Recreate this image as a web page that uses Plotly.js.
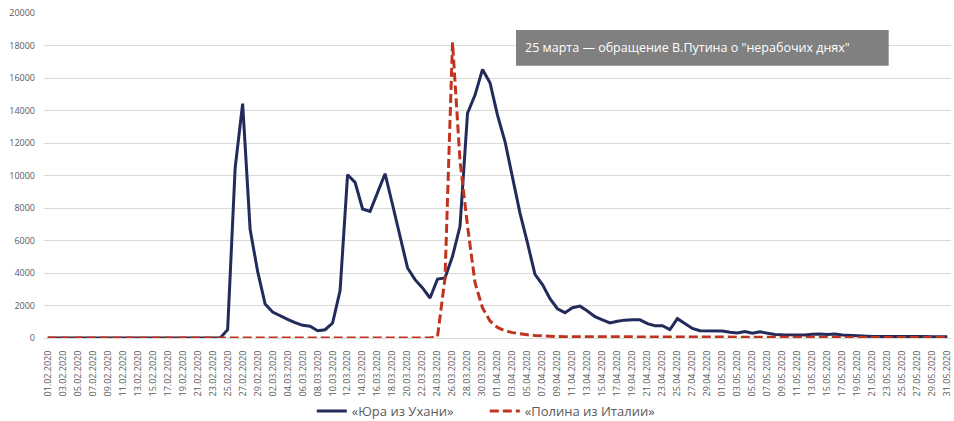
<!DOCTYPE html>
<html>
<head>
<meta charset="utf-8">
<script src="https://cdn.plot.ly/plotly-3.0.1.min.js"></script>
<style>
html,body{margin:0;padding:0;background:#fff;}
#chart{width:954px;height:421px;}
</style>
</head>
<body>
<div id="chart"></div>
<script>
// Daily dates 01.02.2020 .. 31.05.2020 (category labels)
var startDate = Date.UTC(2020, 1, 1);
var dayCount = 121;
var dates = [];
for (var d = 0; d < dayCount; d++) {
  var dt = new Date(startDate + d * 86400000);
  var dd = ('0' + dt.getUTCDate()).slice(-2);
  var mm = ('0' + (dt.getUTCMonth() + 1)).slice(-2);
  dates.push(dd + '.' + mm + '.' + dt.getUTCFullYear());
}
// Tick labels: every second day
var tickLabels = dates.filter(function (_, i) { return i % 2 === 0; });

var seriesNames = ['«Юра из Ухани»', '«Полина из Италии»'];

var yuraValues = [
  0,0,0,0,0,0,0,0,0,0,0,0,0,0,0,0,0,0,0,0,0,0,0,
  0, 510, 10460, 14420, 6670, 4100, 2090, 1600, 1350, 1150,
  950, 780, 720, 450, 510, 920, 2920, 10050, 9580, 7940,
  7790, 8920, 10110, 8200, 6260, 4310, 3590, 3080, 2460, 3630,
  3700, 5030, 6870, 13830, 14950, 16530, 15710, 13720, 12090, 9940,
  7690, 5850, 3910, 3290, 2420, 1800, 1560, 1860, 1960, 1660,
  1310, 1110, 930, 1030, 1100, 1120, 1120, 880, 760, 760,
  520, 1190, 880, 590, 450, 450, 450, 430, 350, 310,
  400, 290, 380, 290, 220, 200, 190, 180, 190, 230,
  250, 210, 250, 180, 150, 120,
  100, 100, 100, 90, 90, 90, 90, 85, 85, 80, 80, 80
];

var polinaValues = [
  0,0,0,0,0,0,0,0,0,0,0,0,0,0,0,0,0,0,0,0,0,0,0,0,0,0,
  0,0,0,0,0,0,0,0,0,0,0,0,0,0,0,0,0,0,0,0,0,0,0,0,0,0,
  100, 3700, 18200, 10900, 6900, 3400, 1850, 1050, 650, 450,
  330, 250, 200, 150, 120, 100, 90,
  80, 80, 75, 70, 70, 65, 65, 60, 60, 60,
  55, 55, 55, 50, 50, 50, 50, 50, 45, 45,
  45, 45, 45, 40, 40, 40, 40, 40, 40, 40,
  40, 35, 35, 35, 35, 35, 35, 35, 35, 35,
  30, 30, 30, 30, 30, 30, 30, 30, 30, 30,
  30, 30
];

var annotationText = '25 марта — обращение В.Путина о "нерабочих днях"';

var font = '"Open Sans", "Liberation Sans", sans-serif';
var gray = '#595959';

var traces = [
  {
    x: dates, y: yuraValues, name: seriesNames[0],
    type: 'scatter', mode: 'lines',
    line: {color: '#232b5b', width: 3}
  },
  {
    x: dates, y: polinaValues, name: seriesNames[1],
    type: 'scatter', mode: 'lines',
    line: {color: '#c0341f', width: 3, dash: '9px,4px'}
  }
];

var layout = {
  width: 954, height: 421,
  margin: {l: 44, r: 3, t: 13, b: 83, autoexpand: false},
  paper_bgcolor: '#ffffff', plot_bgcolor: '#ffffff',
  font: {family: font, color: gray, size: 9},
  showlegend: true,
  legend: {
    orientation: 'h', x: 0.486, xanchor: 'center', y: -0.225, yanchor: 'middle',
    font: {family: font, size: 13, color: gray},
    itemwidth: 30, tracegroupgap: 0,
    entrywidth: 128, entrywidthmode: 'pixels'
  },
  xaxis: {
    type: 'category', automargin: false,
    range: [-0.5, dayCount - 0.5],
    tickmode: 'array', tickvals: tickLabels, ticktext: tickLabels,
    tickangle: -90, ticks: '', showgrid: false, zeroline: false,
    showline: true, linecolor: '#d9d9d9', linewidth: 1,
    ticklabelstandoff: 8,
    tickfont: {family: font, size: 9, color: gray}
  },
  yaxis: {
    range: [0, 20000], dtick: 2000, tick0: 0, tickformat: 'd',
    automargin: false,
    showgrid: true, gridcolor: '#d9d9d9', gridwidth: 1,
    zeroline: false, showline: false, ticks: '',
    ticklabelstandoff: 8,
    tickfont: {family: font, size: 9, color: gray}
  },
  shapes: [{
    type: 'rect', xref: 'paper', yref: 'paper',
    x0: 0.5204, x1: 0.9313, y0: 0.8378, y1: 0.9477,
    fillcolor: '#808080', line: {width: 0}, layer: 'above'
  }],
  annotations: [{
    xref: 'paper', yref: 'paper', x: 0.5281, y: 0.893,
    xanchor: 'left', yanchor: 'middle', showarrow: false,
    text: annotationText,
    font: {family: font, size: 12.5, color: '#ffffff'}
  }]
};

Plotly.newPlot('chart', traces, layout, {displayModeBar: false, staticPlot: true});
</script>
</body>
</html>
